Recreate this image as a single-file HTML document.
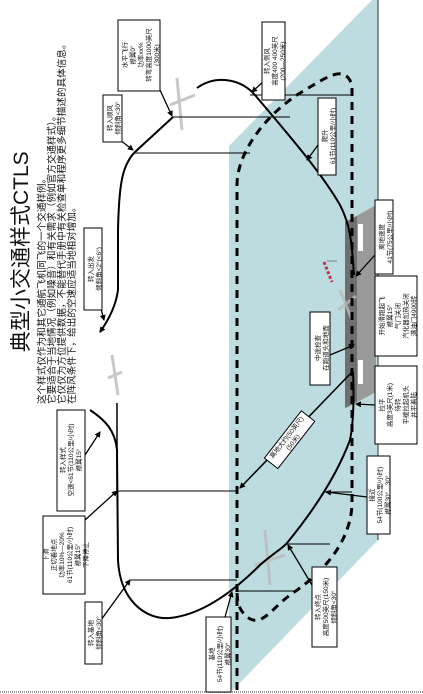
<!DOCTYPE html>
<html><head><meta charset="utf-8"><style>
html,body{margin:0;padding:0;background:#fff;}
svg{display:block;}
text{font-family:"Liberation Sans","Noto Sans CJK SC",sans-serif;fill:#111;}
.bx{fill:#fff;stroke:#000;stroke-width:1;}
.t{font-size:6.5px;text-anchor:middle;}
</style></head><body>
<svg width="423" height="694" viewBox="0 0 423 694" xmlns="http://www.w3.org/2000/svg">
<defs>
<marker id="a" markerWidth="6" markerHeight="6" refX="5" refY="3" orient="auto" markerUnits="userSpaceOnUse"><path d="M0,0 L6,3 L0,6 z" fill="#000"/></marker>
</defs>
<!-- teal ground -->
<polygon points="229,146 372,0 378,0 378,540 233,690 229,690" fill="#bcdcdf"/>
<line x1="378" y1="0" x2="378" y2="540" stroke="#333" stroke-width="1"/>
<line x1="0" y1="692" x2="423" y2="692" stroke="#999" stroke-width="2" stroke-dasharray="1,1"/>
<!-- runway -->
<polygon points="346,222 376,205 376,392 346,408" fill="#9a9a9a"/>
<polygon points="345,222 357,216 357,402 345,408" fill="#6f6f6f"/>
<rect x="358" y="224" width="5" height="27" fill="#fff"/>
<rect x="358" y="360" width="5" height="24" fill="#fff"/>
<line x1="324" y1="262" x2="332" y2="282" stroke="#c0304a" stroke-width="3" stroke-dasharray="3,2"/>
<line x1="327" y1="261" x2="337" y2="261" stroke="#345" stroke-width="0.6"/>
<!-- planes (faint) -->
<g stroke="#bbb" stroke-width="3" fill="none" opacity="0.8">
<line x1="177" y1="78" x2="182" y2="130"/><line x1="170" y1="105" x2="195" y2="95"/>
<line x1="112" y1="355" x2="118" y2="395"/><line x1="108" y1="378" x2="122" y2="372"/>
<line x1="265" y1="530" x2="270" y2="585"/><line x1="255" y1="565" x2="285" y2="555"/>
<line x1="340" y1="290" x2="352" y2="320"/><line x1="338" y1="310" x2="356" y2="296"/>
</g>
<!-- dashed path -->
<path d="M237,690 L237,185 C237,150 270,110 305,90 C330,75 345,65 352,85 L352,505 C350,545 320,575 290,595 C270,610 260,630 245,615 C238,608 237,600 237,590" fill="none" stroke="#000" stroke-width="3" stroke-dasharray="8,6"/>
<!-- solid flight path -->
<path d="M197,88 C215,75 240,78 255,95 C280,125 320,170 340,205 C352,228 352,250 354,275" fill="none" stroke="#000" stroke-width="2"/>
<path d="M173,117 L135,152 C122,165 119,185 118,230 L118,290 C116,305 110,318 100,332" fill="none" stroke="#000" stroke-width="2" marker-end="url(#a)"/>
<path d="M90,410 C105,420 115,430 117,450 L118,560 C120,600 145,620 170,618 C200,615 230,595 260,565 C275,552 283,548 287,543 C310,515 335,480 350,440 C354,420 354,395 353,372" fill="none" stroke="#000" stroke-width="2"/>
<line x1="117" y1="403" x2="117" y2="490" stroke="#000" stroke-width="1.5"/>
<line x1="352" y1="372" x2="240" y2="488" stroke="#000" stroke-width="1.5" marker-end="url(#a)"/>
<!-- horizontal thin lines -->
<g stroke="#000" stroke-width="1">
<line x1="135" y1="153" x2="250" y2="153"/>
<line x1="173" y1="117" x2="290" y2="117"/>
<line x1="250" y1="95" x2="352" y2="95"/>
<line x1="118" y1="491" x2="237" y2="491"/>
<line x1="130" y1="580" x2="237" y2="580"/>
<line x1="237" y1="591" x2="297" y2="591"/>
<line x1="287" y1="544" x2="330" y2="544"/>
<line x1="325" y1="492" x2="352" y2="492"/>
</g>
<!-- pointer arrows -->
<g stroke="#000" stroke-width="1.3" marker-end="url(#a)">
<line x1="160" y1="90" x2="172" y2="116"/>
<line x1="265" y1="80" x2="252" y2="92"/>
<line x1="120" y1="140" x2="133" y2="150"/>
<line x1="318" y1="145" x2="307" y2="160"/>
<line x1="375" y1="255" x2="356" y2="276"/>
<line x1="100" y1="305" x2="104" y2="320"/>
<line x1="330" y1="355" x2="354" y2="345"/>
<line x1="375" y1="405" x2="356" y2="404"/>
<line x1="367" y1="497" x2="326" y2="492"/>
<line x1="85" y1="455" x2="100" y2="432"/>
<line x1="85" y1="520" x2="117" y2="491"/>
<line x1="101" y1="620" x2="130" y2="580"/>
<line x1="312" y1="585" x2="288" y2="545"/>
<line x1="225" y1="617" x2="232" y2="592"/>
</g>
<!-- title & description -->
<text transform="translate(28,352) rotate(-90)" style="font-size:21px">典型小交通样式CTLS</text>
<g style="font-size:9.6px">
<text transform="translate(45,404) rotate(-90)">这个样式仅作为和其它通航飞机同飞的一个交通样例。</text>
<text transform="translate(55,404) rotate(-90)">它要适合于当地情况（例如噪音）和有关需求（例如官方交通样式）。</text>
<text transform="translate(65,404) rotate(-90)">它仅仅为方位提供数据，不能替代手册中有关检查单和程序更多细节描述的具体信息。</text>
<text transform="translate(75,404) rotate(-90)">在阵风条件下，给出的空速应适当地相对增加。</text>
</g>
<!-- boxes -->
<rect class="bx" x="118" y="20" width="42" height="71"/>
<g transform="translate(139,55) rotate(-90)"><text class="t" y="-12">水平飞行</text><text class="t" y="-4">襟翼0°</text><text class="t" y="4">功率xx%</text><text class="t" y="12">转弯高度1000英尺</text><text class="t" y="20">(300米)</text></g>
<rect class="bx" x="262" y="22" width="23" height="78"/>
<g transform="translate(273,61) rotate(-90)"><text class="t" y="-4">转入侧风</text><text class="t" y="4">高度400 400英尺</text><text class="t" y="12">(200—250米)</text></g>
<rect class="bx" x="103" y="95" width="19" height="47"/>
<g transform="translate(112,118) rotate(-90)"><text class="t" y="0">转入顺风</text><text class="t" y="8">倾斜角&lt;30°</text></g>
<rect class="bx" x="318" y="98" width="18" height="77"/>
<g transform="translate(327,136) rotate(-90)"><text class="t" y="0">爬升</text><text class="t" y="8">61节(110公里/小时)</text></g>
<rect class="bx" x="375" y="200" width="18" height="74"/>
<g transform="translate(384,237) rotate(-90)"><text class="t" y="0">离地速度</text><text class="t" y="8">41节(75公里/小时)</text></g>
<rect class="bx" x="375" y="276" width="42" height="80"/>
<g transform="translate(396,316) rotate(-90)"><text class="t" y="-12">开始滑跑起飞</text><text class="t" y="-4">襟翼15°</text><text class="t" y="4">气门关闭</text><text class="t" y="12">汽化器加热关闭</text><text class="t" y="20">满油门4900转</text></g>
<rect class="bx" x="84" y="228" width="18" height="82"/>
<g transform="translate(93,269) rotate(-90)"><text class="t" y="0">转入出发</text><text class="t" y="8">倾斜角&lt;2°(&lt;6°)</text></g>
<rect class="bx" x="310" y="312" width="20" height="73"/>
<g transform="translate(320,348) rotate(-90)"><text class="t" y="0">中途检查</text><text class="t" y="8">在跑道头和地面</text></g>
<rect class="bx" x="375" y="366" width="42" height="78"/>
<g transform="translate(396,405) rotate(-90)"><text class="t" y="-12">拉平</text><text class="t" y="-4">高度3英尺(1米)</text><text class="t" y="4">待转</text><text class="t" y="12">平缓拉起机头</text><text class="t" y="20">并平着陆</text></g>
<rect class="bx" x="367" y="456" width="23" height="78"/>
<g transform="translate(378,495) rotate(-90)"><text class="t" y="-4">接近</text><text class="t" y="4">54节(100公里/小时)</text><text class="t" y="12">襟翼30°…30°</text></g>
<rect class="bx" x="57" y="410" width="28" height="101"/>
<g transform="translate(71,460) rotate(-90)"><text class="t" y="-6">转入样式</text><text class="t" y="2">空速&lt;61节(110公里/小时)</text><text class="t" y="10">襟翼15°</text></g>
<rect class="bx" x="43" y="516" width="42" height="78"/>
<g transform="translate(64,555) rotate(-90)"><text class="t" y="-16">下滑</text><text class="t" y="-8">正切着地点</text><text class="t" y="0">功率10%—20%</text><text class="t" y="8">61节(110公里/小时)</text><text class="t" y="16">襟翼15°</text><text class="t" y="24">下降停止</text></g>
<rect class="bx" x="85" y="602" width="17" height="62"/>
<g transform="translate(93,633) rotate(-90)"><text class="t" y="0">转入基地</text><text class="t" y="8">倾斜角&lt;30°</text></g>
<rect class="bx" x="312" y="567" width="25" height="80"/>
<g transform="translate(324,607) rotate(-90)"><text class="t" y="-4">转入终点</text><text class="t" y="4">高度500英尺(150米)</text><text class="t" y="12">倾斜角&lt;30°</text></g>
<rect class="bx" x="206" y="617" width="25" height="75"/>
<g transform="translate(218,654) rotate(-90)"><text class="t" y="-4">基地</text><text class="t" y="4">54节(110公里/小时)</text><text class="t" y="12">襟翼30°</text></g>
<g transform="translate(290,440) rotate(-52)"><rect class="bx" x="-30" y="-9" width="60" height="17"/><text class="t" y="-2">离地大约(50英尺)</text><text class="t" y="6">(50米)</text></g>
</svg>
</body></html>
